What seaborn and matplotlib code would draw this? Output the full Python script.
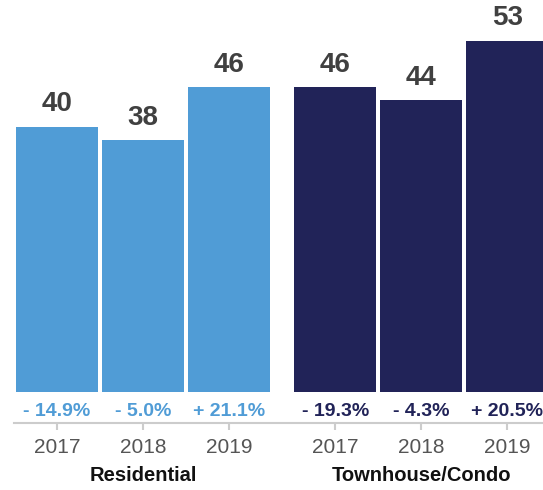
import matplotlib
matplotlib.use("Agg")
import matplotlib.pyplot as plt
import seaborn as sns
import pandas as pd

years = ["2017", "2018", "2019"]
groups = ["Residential", "Townhouse/Condo"]
res_values = [40, 38, 46]
condo_values = [46, 44, 53]
res_change = ["- 14.9%", "- 5.0%", "+ 21.1%"]
condo_change = ["- 19.3%", "- 4.3%", "+ 20.5%"]

colors = {"Residential": "#509cd6", "Townhouse/Condo": "#212358"}
group_offset = 3.235

rows = []
for gi, (g, vals, chg) in enumerate(zip(groups, [res_values, condo_values], [res_change, condo_change])):
    for yi, (yr, v, c) in enumerate(zip(years, vals, chg)):
        rows.append({"group": g, "year": yr, "value": v, "change": c,
                     "pos": gi * group_offset + yi})
df = pd.DataFrame(rows)

sns.set_theme(style="white")
plt.rcParams["font.family"] = ["Liberation Sans", "DejaVu Sans"]

fig = plt.figure(figsize=(5.43, 4.90), dpi=100)
ax = fig.add_axes([14 / 543, 67 / 490, 1 - 14 / 543, 1 - 67 / 490])

sns.barplot(data=df, x="pos", y="value", hue="group", native_scale=True,
            dodge=False, palette=colors, width=0.953, saturation=1,
            edgecolor="none", linewidth=0, legend=False, ax=ax)

for cont in ax.containers:
    ax.bar_label(cont, fmt="%d", padding=7, fontsize=20, fontweight="bold",
                 color="#404040")

for _, r in df.iterrows():
    ax.text(r["pos"], -2.9, r["change"], ha="center", va="center",
            fontsize=14, fontweight="bold", color=colors[r["group"]])

ax.set_ylim(-4.68, 59.17)
ax.set_xlim(-0.5, 5.65)
ax.set_xticks(df["pos"].tolist())
ax.set_xticklabels(df["year"].tolist())
ax.tick_params(axis="x", length=5, width=1.5, color="#cccccc", labelsize=15,
               labelcolor="#555555", pad=6, bottom=True)
ax.set_yticks([])
ax.set_xlabel("")
ax.set_ylabel("")
for s in ["left", "right", "top"]:
    ax.spines[s].set_visible(False)
ax.spines["bottom"].set_color("#cccccc")
ax.spines["bottom"].set_linewidth(1.5)

for gi, g in enumerate(groups):
    cx = gi * group_offset + 1
    ax.annotate(g, xy=(cx, 0), xycoords=("data", "figure fraction"),
                xytext=(0, 15), textcoords="offset pixels",
                ha="center", va="center", fontsize=14.5, fontweight="bold",
                color="#111111")

fig.savefig("out.png", dpi=100)
